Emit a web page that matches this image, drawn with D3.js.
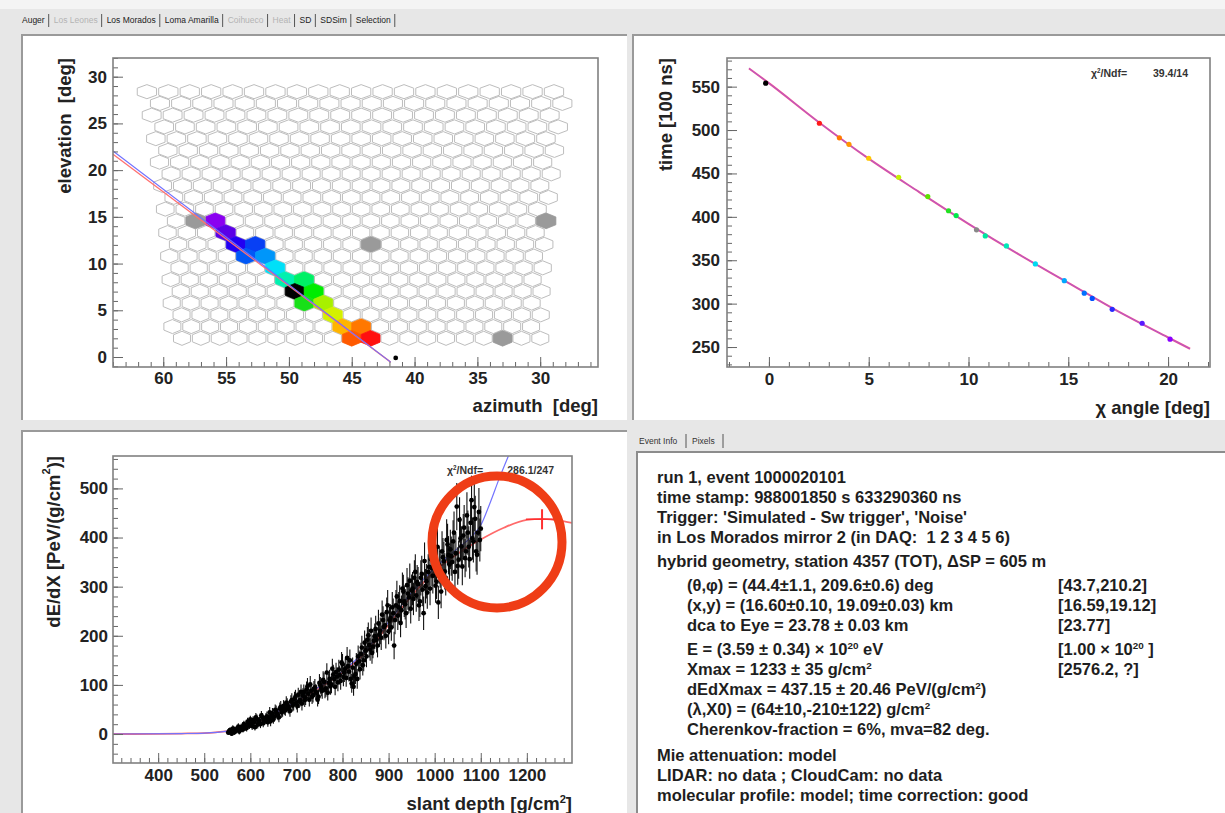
<!DOCTYPE html>
<html><head><meta charset="utf-8">
<script src="https://cdn.jsdelivr.net/npm/d3@7"></script>
<style>
body{margin:0;background:#e7e7e7;}
svg{display:block;font-family:"Liberation Sans",Arial,Helvetica,sans-serif;}
text{white-space:pre;}
</style></head>
<body><svg id="c" width="1225" height="813"></svg>
<script>
// ---------------- DATA ----------------
const tabLabels = ["Auger","Los Leones","Los Morados","Loma Amarilla","Coihueco","Heat","SD","SDSim","Selection"];
const tabEnabled = [true,false,true,true,false,false,true,true,true];
const infoTabs = ["Event Info","Pixels"];

// camera (top-left): 22 rows x 20 columns of hexagonal pixels
const camRows = 22, camCols = 20;
const camElev0 = 2.0, camRowStep = 1.257, camColStep = 1.5, camCenterAz = 44.25;
// triggered pixels (row, column, colour)
const pixRow = [10,9,8,8,7,7,6,5,5,4,4,3,3,2,1,1,0,0,10,8,10,0];
const pixCol = [2,3,3,4,4,5,5,6,7,6,7,7,8,8,9,10,9,10,1,10,19,17];
const pixColor = ["#8a00f0","#5a00e6","#2200f2","#0840f4","#0058f6","#0096fa","#00e0f8","#00f0b0","#00f066","#000000","#00ec00","#18e018","#a8f000","#d4f000","#ffb400","#ff7800","#ff5a00","#ff1010","#9a9a9a","#9a9a9a","#9a9a9a","#9a9a9a"];
const sdpAz = [64.0, 41.9];
const sdpElRed = [21.7, -0.55];
const sdpElBlue = [22.05, -0.55];
const eyeDot = [41.5, -0.1];

// time fit (top-right)
const tpChi  = [-0.16,2.53,3.53,4.01,5.0,6.5,7.96,9.0,9.38,10.4,10.84,11.9,13.35,14.8,15.8,16.2,17.2,18.7,20.1];
const tpTime = [554,507.8,491,483.6,467.5,445.6,423.3,407,401.4,385,378,366.5,345.7,326.5,312,306,293.5,277.4,259];
const tpColor = ["#000000","#ff1a1a","#ff7a00","#ff9500","#ffc800","#c8f000","#5ee000","#22e022","#00e84a","#888888","#00e8a0","#00e8b8","#00d8f0","#00a8ff","#0070ff","#0050ff","#2a2aff","#5a1aff","#8a00ff"];
const fitChi = [-1.0,0,2.5,5,7.5,10,12.5,15,17.5,20,21.1];
const fitTime = [571,554,509,467,429,392,357,324,291,261,248];
const tpChi2Label = "39.4/14";

// longitudinal profile (bottom-left), two interleaved sets of bins
const profX = [552,556,560,564,568,572,576,580,584,588, 592,596,600,604,608,612,616,620,624,628,
 632,636,640,644,648,652,656,660,664,668, 672,676,680,684,688,692,696,700,704,708,
 712,716,720,724,728,732,736,740,744,748, 752,756,760,764,768,772,776,780,784,788,
 792,796,800,804,808,812,816,820,824,828, 832,836,840,844,848,852,856,860,864,868,
 872,876,880,884,888,892,896,900,904,908, 912,916,920,924,928,932,936,940,944,948,
 952,956,960,964,968,972,976,980,984,988, 992,996,1000,1004,1008,1012,1016,1020,1024,1028,
 1032,1036,1040,1044,1048,1052,1056,1060,1064,1068, 1072,1076,1080,1084,1088,1092,1096,1100];
const profY = [3,8,1,10,6,12,5,14,9,18, 12,22,30,16,24,34,19,27,38,22,
 29,36,31,26,42,35,47,38,52,44, 57,48,60,52,66,58,72,63,80,69,
 62,85,74,97,70,88,79,95,84,76, 99,88,106,93,84,112,101,121,96,117,
 131,108,142,125,114,138,150,103,96,122, 112,148,163,140,186,158,201,172,165,190,
 214,180,203,196,232,221,248,209,236,258, 180,262,241,271,252,290,264,303,278,255,
 296,318,282,305,270,326,246,301,288,340, 356,322,347,310,268,335,372,352,318,386,
 345,362,392,330,463,355,398,341,420,372, 410,356,476,392,438,365,452,418];
const profErr = [5,6,5,6,6,7,6,7,6,7, 7,8,7,8,8,9,8,9,9,8,
 9,10,9,10,11,10,11,10,12,11, 12,11,13,12,13,12,14,13,14,13,
 14,16,15,17,14,16,15,17,16,15, 17,16,18,17,16,19,18,20,17,19,
 20,18,21,19,18,21,22,19,18,20, 20,22,23,21,25,22,26,23,22,25,
 27,24,26,25,28,27,30,26,28,31, 28,31,29,32,30,34,31,35,32,30,
 34,36,33,35,32,37,34,35,33,38, 39,36,38,35,34,37,41,39,36,42,
 38,40,43,37,48,39,44,38,46,41, 45,40,50,43,47,41,49,46];
const profX2 = [554,558,562,566,570,574,578,582,586,590, 594,598,602,606,610,614,618,622,626,630,
 634,638,642,646,650,654,658,662,666,670, 674,678,682,686,690,694,698,702,706,710,
 714,718,722,726,730,734,738,742,746,750, 754,758,762,766,770,774,778,782,786,790,
 794,798,802,806,810,814,818,822,826,830, 834,838,842,846,850,854,858,862,866,870,
 874,878,882,886,890,894,898,902,906,910, 914,918,922,926,930,934,938,942,946,950,
 954,958,962,966,970,974,978,982,986,990, 994,998,1002,1006,1010,1014,1018,1022,1026,1030,
 1034,1038,1042,1046,1050,1054,1058,1062,1066,1070, 1074,1078,1082,1086,1090,1094,1098];
const profY2 = [6,2,11,4,9,15,8,11,20,13, 25,17,21,28,14,31,25,20,34,27,
 33,24,44,37,30,49,41,34,55,46, 51,64,55,47,69,61,76,57,66,86,
 78,69,91,82,101,76,92,86,70,104, 94,110,90,125,104,97,133,112,126,105,
 120,146,116,133,155,127,112,135,118,143, 158,132,176,150,170,192,181,210,178,199,
 192,225,210,243,218,200,262,231,217,246, 232,280,258,226,296,270,246,286,312,292,
 275,330,309,262,318,294,352,311,330,296, 338,362,302,381,344,290,360,331,395,364,
 376,350,410,368,342,436,382,404,358,445, 381,430,398,462,372,410,395];
const profErr2 = [6,5,7,6,6,7,6,7,7,7, 8,7,8,8,7,9,8,8,9,9,
 10,9,11,10,9,11,11,10,12,11, 12,13,12,12,14,13,14,13,13,15,
 15,14,16,16,17,15,16,16,14,18, 17,18,17,19,18,17,20,18,19,18,
 19,21,19,20,22,20,19,21,20,22, 22,21,24,22,24,26,25,27,24,26,
 26,28,27,29,27,26,31,28,27,30, 29,32,31,29,33,32,30,33,35,33,
 33,36,35,32,36,34,38,35,36,34, 37,39,35,40,38,34,39,37,42,39,
 40,38,43,40,38,46,41,44,39,47, 42,46,43,49,41,45,44];
const ghX   = [300,400,450,500,525,550,600,650,700,750,800,850,900,950,1000,1050,1100,1150,1200,1233,1260,1298];
const ghRed = [0,0.3,1,2,3.5,6,19,40,66,94,125,166,222,281,331,367,396,420,436,438,436,430];
const ghBlueX = [300,450,500,550,600,650,700,750,800,850,900,950,1000,1050,1080,1100,1120,1140,1160];
const ghBlue  = [0,1,2,6,20,41,67,96,128,170,228,288,338,378,402,425,470,520,566];
const xmaxPoint = {x:1233, y:437.15, ex:35, ey:20.46};
const profChi2Label = "286.1/247";

// event info text
const infoLines = [
 {i:0, t:"run 1, event 1000020101"},
 {i:0, t:"time stamp: 988001850 s 633290360 ns"},
 {i:0, t:"Trigger: 'Simulated - Sw trigger', 'Noise'"},
 {i:0, t:"in Los Morados mirror 2 (in DAQ:  1 2 3 4 5 6)"},
 {i:0, t:"hybrid geometry, station 4357 (TOT), \u0394SP = 605 m"},
 {i:1, t:"(\u03b8,\u03c6) = (44.4\u00b11.1, 209.6\u00b10.6) deg", r:"[43.7,210.2]"},
 {i:1, t:"(x,y) = (16.60\u00b10.10, 19.09\u00b10.03) km", r:"[16.59,19.12]"},
 {i:1, t:"dca to Eye = 23.78 \u00b1 0.03 km", r:"[23.77]"},
 {i:1, t:"E = (3.59 \u00b1 0.34) \u00d7 10^{20} eV", r:"[1.00 \u00d7 10^{20} ]"},
 {i:1, t:"Xmax = 1233 \u00b1 35 g/cm^{2}", r:"[2576.2, ?]"},
 {i:1, t:"dEdXmax = 437.15 \u00b1 20.46 PeV/(g/cm^{2})"},
 {i:1, t:"(\u03bb,X0) = (64\u00b110,-210\u00b1122) g/cm^{2}"},
 {i:1, t:"Cherenkov-fraction = 6%, mva=82 deg."},
 {i:0, t:"Mie attenuation: model"},
 {i:0, t:"LIDAR: no data ; CloudCam: no data"},
 {i:0, t:"molecular profile: model; time correction: good"}
];
const infoY = [477,497,517,537,561,585,605,625,649,669,689,709,729,755,775,795];

// ---------------- DRAW ----------------
const svg = d3.select("#c");
svg.append("rect").attr("width",1225).attr("height",813).attr("fill","#e7e7e7");
svg.append("rect").attr("width",1225).attr("height",9).attr("fill","#f4f4f4");

// top tab bar
{
  const g = svg.append("g").attr("font-size",8.5);
  let x = 22;
  tabLabels.forEach((t,k)=>{
    const tx = g.append("text").attr("x",x).attr("y",23).text(t)
      .attr("fill", tabEnabled[k] ? "#222" : "#b4b4b4");
    const w = tx.node().getComputedTextLength();
    x += w + 4;
    g.append("line").attr("x1",x).attr("x2",x).attr("y1",14).attr("y2",27).attr("stroke","#555").attr("stroke-width",1);
    x += 5;
  });
}

// canvases
function canvas(x,y,w,h){
  svg.append("rect").attr("x",x).attr("y",y).attr("width",w).attr("height",h).attr("fill","#fff");
  svg.append("path").attr("d",`M${x},${y+h}V${y}H${x+w}`).attr("fill","none").attr("stroke","#9a9a9a").attr("stroke-width",2);
}
canvas(22,35,605,385);
canvas(633,35,592,385);
canvas(22,431,605,382);

// info panel tabs + box
{
  const g = svg.append("g").attr("font-size",8.5).attr("fill","#333");
  g.append("text").attr("x",639).attr("y",444).text(infoTabs[0]);
  g.append("line").attr("x1",686).attr("x2",686).attr("y1",434).attr("y2",448).attr("stroke","#555");
  g.append("text").attr("x",692).attr("y",444).text(infoTabs[1]);
  g.append("line").attr("x1",723).attr("x2",723).attr("y1",434).attr("y2",448).attr("stroke","#555");
  svg.append("rect").attr("x",637).attr("y",452).attr("width",600).attr("height",370).attr("fill","#fff")
    .attr("stroke","#8c8c8c").attr("stroke-width",2);
}

const FS_LBL = 17, FS_TTL = 18.5;
function axes(g, x, y, o){
  const [x0,x1] = x.range(), [y0,y1] = y.range();
  const gxm = g.append("g").attr("transform",`translate(0,${y0})`)
    .call(d3.axisBottom(x).tickValues(o.xMinor).tickSize(-5).tickSizeOuter(0).tickFormat(""));
  const gx = g.append("g").attr("transform",`translate(0,${y0})`)
    .call(d3.axisBottom(x).tickValues(o.xMajor).tickSize(-10).tickSizeOuter(0).tickPadding(o.xPad||5).tickFormat(d3.format("d")));
  const gym = g.append("g").attr("transform",`translate(${x0},0)`)
    .call(d3.axisLeft(y).tickValues(o.yMinor).tickSize(-5).tickSizeOuter(0).tickFormat(""));
  const gy = g.append("g").attr("transform",`translate(${x0},0)`)
    .call(d3.axisLeft(y).tickValues(o.yMajor).tickSize(-10).tickSizeOuter(0).tickPadding(o.yPad||6).tickFormat(d3.format("d")));
  [gxm,gx,gym,gy].forEach(a=>{
    a.select(".domain").remove();
    a.selectAll("line").attr("stroke","#666").attr("stroke-width",1);
    a.selectAll("text").attr("font-size",FS_LBL).attr("font-weight","bold").attr("fill","#222")
      .attr("font-family",'"Liberation Sans",Arial,sans-serif');
  });
  g.append("rect").attr("x",Math.min(x0,x1)).attr("y",y1).attr("width",Math.abs(x1-x0)).attr("height",y0-y1)
    .attr("fill","none").attr("stroke","#808080").attr("stroke-width",1.6);
}
function ytitle(g, cx, ytop, parts){
  const t = g.append("text").attr("transform",`translate(${cx},${ytop}) rotate(-90)`)
    .attr("text-anchor","end").attr("dominant-baseline","central")
    .attr("font-size",FS_TTL).attr("font-weight","bold").attr("fill","#222");
  addParts(t, parts, FS_TTL);
}
function xtitle(g, xr, yb, parts){
  const t = g.append("text").attr("x",xr).attr("y",yb).attr("text-anchor","end")
    .attr("font-size",FS_TTL).attr("font-weight","bold").attr("fill","#222");
  addParts(t, parts, FS_TTL);
}
// parse "^{..}" superscripts
function addParts(t, s, fs){
  const re = /\^\{([^}]*)\}/g; let last = 0, m, up = false;
  while((m = re.exec(s))){
    if(m.index>last) t.append("tspan").attr("dy", up ? fs*0.38 : null).text(s.slice(last,m.index)), up=false;
    t.append("tspan").attr("dy", -fs*0.38).attr("font-size",fs*0.6).text(m[1]); up = true;
    last = re.lastIndex;
  }
  if(last < s.length) t.append("tspan").attr("dy", up ? fs*0.38 : null).text(s.slice(last));
}

// ---------- top-left: camera ----------
{
  const g = svg.append("g");
  const x = d3.scaleLinear().domain([64.0,25.4]).range([113,598]);
  const y = d3.scaleLinear().domain([-1.07,32.0]).range([367,58]);
  const pxDeg = Math.abs(x(1)-x(0));
  const rowPx = camRowStep*(y(0)-y(1));
  const hexPath = (w,h)=>`M0,${-h/2}L${w/2},${-h/4}L${w/2},${h/4}L0,${h/2}L${-w/2},${h/4}L${-w/2},${-h/4}Z`;
  const pixelPos = (r,c)=>{
    const el = camElev0 + r*camRowStep;
    const sp = camColStep/Math.cos(el*Math.PI/180);
    const az = camCenterAz + (9.5 - c + (r%2 ? 0.5 : 0))*sp;
    return {az, el, sp};
  };
  const cells = [];
  for(let r=0;r<camRows;r++) for(let c=0;c<camCols;c++) cells.push(pixelPos(r,c));
  const hexH = rowPx/0.75*0.9;
  g.selectAll("path.hex").data(cells).join("path").attr("class","hex")
    .attr("transform",d=>`translate(${x(d.az)},${y(d.el)})`)
    .attr("d",d=>hexPath(d.sp*pxDeg*0.9, hexH))
    .attr("fill","#fff").attr("stroke","#bdbdbd").attr("stroke-width",1);
  const hits = pixRow.map((r,k)=>Object.assign(pixelPos(r,pixCol[k]),{col:pixColor[k]}));
  g.selectAll("path.hit").data(hits).join("path").attr("class","hit")
    .attr("transform",d=>`translate(${x(d.az)},${y(d.el)})`)
    .attr("d",d=>hexPath(d.sp*pxDeg*1.0, rowPx/0.75))
    .attr("fill",d=>d.col).attr("stroke",d=>d.col).attr("stroke-width",0.8);
  const ln = d3.line().x(d=>x(d[0])).y(d=>y(d[1]));
  g.append("path").attr("d",ln(sdpAz.map((a,k)=>[a,sdpElRed[k]]))).attr("stroke","#ff7070").attr("stroke-width",1.3).attr("fill","none");
  g.append("path").attr("d",ln(sdpAz.map((a,k)=>[a,sdpElBlue[k]]))).attr("stroke","#6f6fff").attr("stroke-width",1.1).attr("fill","none");
  g.append("circle").attr("cx",x(eyeDot[0])).attr("cy",y(eyeDot[1])).attr("r",2.4).attr("fill","#000");
  axes(g,x,y,{xMajor:[60,55,50,45,40,35,30], xMinor:d3.range(26,65,1),
              yMajor:[0,5,10,15,20,25,30], yMinor:d3.range(-1,33,1), xPad:5, yPad:6});
  ytitle(g, 64, 58, "elevation  [deg]");
  xtitle(g, 598, 412, "azimuth  [deg]");
}

// ---------- top-right: time fit ----------
{
  const g = svg.append("g");
  const x = d3.scaleLinear().domain([-2.1,22.1]).range([727,1210]);
  const y = d3.scaleLinear().domain([227,583]).range([367,58]);
  const ln = d3.line().curve(d3.curveMonotoneX).x(d=>x(d[0])).y(d=>y(d[1]));
  const pts = fitChi.map((c,k)=>[c,fitTime[k]]);
  g.append("path").attr("d",ln(pts)).attr("stroke","#f0508c").attr("stroke-width",2).attr("fill","none");
  g.append("path").attr("d",ln(pts)).attr("stroke","#8060ff").attr("stroke-width",1).attr("fill","none").attr("opacity",0.6);
  g.selectAll("circle.p").data(tpChi).join("circle").attr("class","p")
    .attr("cx",d=>x(d)).attr("cy",(d,k)=>y(tpTime[k])).attr("r",2.6).attr("fill",(d,k)=>tpColor[k]);
  axes(g,x,y,{xMajor:[0,5,10,15,20], xMinor:d3.range(-2,23,1),
              yMajor:[250,300,350,400,450,500,550], yMinor:d3.range(230,584,10), xPad:6, yPad:7});
  ytitle(g, 665, 58, "time [100 ns]");
  xtitle(g, 1210, 414, "\u03c7 angle [deg]");
  const t = g.append("text").attr("x",1091).attr("y",77).attr("font-size",10.5).attr("font-weight","bold").attr("fill","#333");
  addParts(t,"\u03c7^{2}/Ndf=",10.5);
  g.append("text").attr("x",1188).attr("y",77).attr("text-anchor","end").attr("font-size",10.5).attr("font-weight","bold").attr("fill","#333").text(tpChi2Label);
}

// ---------- bottom-left: longitudinal profile ----------
{
  const g = svg.append("g");
  const x = d3.scaleLinear().domain([302,1298]).range([113,572]);
  const y = d3.scaleLinear().domain([-59,566]).range([763,456]);
  svg.append("clipPath").attr("id","clipP").append("rect").attr("x",113).attr("y",456).attr("width",459).attr("height",307);
  const pg = g.append("g").attr("clip-path","url(#clipP)");
  const ln = d3.line().curve(d3.curveMonotoneX).x(d=>x(d[0])).y(d=>y(d[1]));
  pg.append("path").attr("d",ln(ghX.map((v,k)=>[v,ghRed[k]]))).attr("stroke","#ff6a6a").attr("stroke-width",1.8).attr("fill","none");
  pg.append("path").attr("d",ln(ghBlueX.map((v,k)=>[v,ghBlue[k]]))).attr("stroke","#7373ff").attr("stroke-width",1.2).attr("fill","none");
  const pts = profX.map((v,k)=>({x:v,y:profY[k],e:profErr[k]}))
    .concat(profX2.map((v,k)=>({x:v,y:profY2[k],e:profErr2[k]})));
  pg.selectAll("line.e").data(pts).join("line").attr("class","e")
    .attr("x1",d=>x(d.x)).attr("x2",d=>x(d.x))
    .attr("y1",d=>y(d.y-d.e)).attr("y2",d=>y(d.y+d.e))
    .attr("stroke","#111").attr("stroke-width",1.1);
  pg.selectAll("line.h").data(pts).join("line").attr("class","h")
    .attr("x1",d=>x(d.x)-1.5).attr("x2",d=>x(d.x)+1.5)
    .attr("y1",d=>y(d.y)).attr("y2",d=>y(d.y))
    .attr("stroke","#111").attr("stroke-width",1);
  pg.selectAll("circle.p").data(pts).join("circle").attr("class","p")
    .attr("cx",d=>x(d.x)).attr("cy",d=>y(d.y)).attr("r",2.4).attr("fill","#000");
  // Xmax marker
  pg.append("line").attr("x1",x(xmaxPoint.x-xmaxPoint.ex)).attr("x2",x(xmaxPoint.x+xmaxPoint.ex))
    .attr("y1",y(xmaxPoint.y)).attr("y2",y(xmaxPoint.y)).attr("stroke","#ff3030").attr("stroke-width",1.5);
  pg.append("line").attr("x1",x(xmaxPoint.x)).attr("x2",x(xmaxPoint.x))
    .attr("y1",y(xmaxPoint.y-xmaxPoint.ey)).attr("y2",y(xmaxPoint.y+xmaxPoint.ey)).attr("stroke","#ff3030").attr("stroke-width",2);
  axes(g,x,y,{xMajor:[400,500,600,700,800,900,1000,1100,1200], xMinor:d3.range(320,1300,20),
              yMajor:[0,100,200,300,400,500], yMinor:d3.range(-40,566,20), xPad:6, yPad:5});
  ytitle(g, 53, 456, "dE/dX [PeV/(g/cm^{2})]");
  xtitle(g, 572, 810, "slant depth [g/cm^{2}]");
  const t = g.append("text").attr("x",447).attr("y",474).attr("font-size",10.5).attr("font-weight","bold").attr("fill","#333");
  addParts(t,"\u03c7^{2}/Ndf=",10.5);
  g.append("text").attr("x",554).attr("y",474).attr("text-anchor","end").attr("font-size",10.5).attr("font-weight","bold").attr("fill","#333").text(profChi2Label);
  // red annotation circle
  svg.append("ellipse").attr("cx",497).attr("cy",542).attr("rx",65).attr("ry",66)
    .attr("fill","none").attr("stroke","#ef3d16").attr("stroke-width",9);
}

// ---------- bottom-right: event info ----------
{
  const g = svg.append("g").attr("font-size",16.5).attr("font-weight","bold").attr("fill","#1e1e1e");
  infoLines.forEach((L,k)=>{
    const t = g.append("text").attr("x", L.i ? 687 : 657).attr("y", infoY[k]+6);
    addParts(t, L.t, 16.5);
    if(L.r){
      const r = g.append("text").attr("x",1058).attr("y",infoY[k]+6);
      addParts(r, L.r, 16.5);
    }
  });
}
</script></body></html>
